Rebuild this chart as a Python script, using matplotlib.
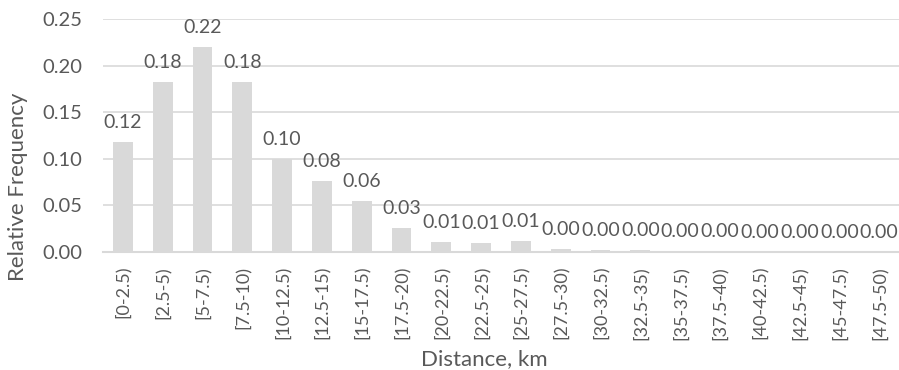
import numpy as np
import matplotlib.pyplot as plt

plt.rcParams['font.family'] = ['Lato', 'DejaVu Sans']

# distance bins and their relative frequencies
bins = ['[0-2.5)', '[2.5-5)', '[5-7.5)', '[7.5-10)', '[10-12.5)', '[12.5-15)',
        '[15-17.5)', '[17.5-20)', '[20-22.5)', '[22.5-25)', '[25-27.5)',
        '[27.5-30)', '[30-32.5)', '[32.5-35)', '[35-37.5)', '[37.5-40)',
        '[40-42.5)', '[42.5-45)', '[45-47.5)', '[47.5-50)']
freq = [0.118, 0.182, 0.220, 0.182, 0.100, 0.076, 0.055, 0.026, 0.011, 0.010,
        0.012, 0.003, 0.002, 0.002, 0.001, 0.001, 0.0, 0.0, 0.0, 0.0]

grey = '#d9d9d9'
txt = '#595959'

fig = plt.figure(figsize=(8.99, 3.70), dpi=100)
ax = fig.add_axes([103/899, 1 - 252/370, 796/899, 233/370])

x = np.arange(len(bins))
ax.bar(x, freq, width=0.5, color=grey, zorder=2)
for xi, v in zip(x, freq):
    ax.annotate(f'{v:.2f}', (xi, v), xytext=(0, 8), textcoords='offset points',
                ha='center', va='bottom', fontsize=14, color=txt)

ax.set_xlim(-0.5, len(bins) - 0.5)
ax.set_ylim(0, 0.25)
ticks = np.arange(0, 0.251, 0.05)
ax.set_yticks(ticks)
ax.set_yticklabels([f'{t:.2f}' for t in ticks])
ax.yaxis.grid(True, color=grey, lw=1.2, zorder=0)
ax.set_xticks(x)
ax.set_xticklabels(bins, rotation=90)
ax.tick_params(length=0, colors=txt)
ax.tick_params(axis='y', labelsize=14.5, pad=15)
ax.tick_params(axis='x', labelsize=13, pad=10)
for s in ['top', 'right', 'left']:
    ax.spines[s].set_visible(False)
ax.spines['bottom'].set_color(grey)
ax.spines['bottom'].set_linewidth(1.5)

ax.set_ylabel('Relative Frequency', fontsize=16, color=txt, va='center')
ax.yaxis.set_label_coords(-0.107, 0.28)
ax.set_xlabel('Distance, km', fontsize=16, color=txt, va='center')
ax.xaxis.set_label_coords(0.479, -0.46)

fig.savefig('out.png', dpi=100)
